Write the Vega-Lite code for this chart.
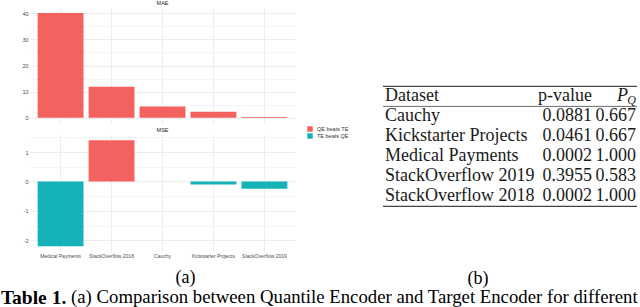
{
  "$schema": "https://vega.github.io/schema/vega-lite/v6.json",
  "padding": 0,
  "background": "white",
  "config": {
    "view": {"stroke": null},
    "font": "Liberation Sans",
    "axis": {"domain": false, "ticks": false, "labelFontSize": 5.5, "labelColor": "#4D4D4D", "labelFont": "Liberation Sans", "gridColor": "#EBEBEB", "gridWidth": 0.9, "labelPadding": 2},
    "title": {"font": "Liberation Sans", "fontSize": 5.5, "fontWeight": "normal", "color": "#1A1A1A"}
  },
  "datasets": {
    "bars": [
      {"metric": "MAE", "dataset": "Medical Payments", "value": 40.1, "winner": "QE beats TE"},
      {"metric": "MAE", "dataset": "StackOverflow 2018", "value": 11.9, "winner": "QE beats TE"},
      {"metric": "MAE", "dataset": "Cauchy", "value": 4.3, "winner": "QE beats TE"},
      {"metric": "MAE", "dataset": "Kickstarter Projects", "value": 2.3, "winner": "QE beats TE"},
      {"metric": "MAE", "dataset": "StackOverflow 2019", "value": 0.3, "winner": "QE beats TE"},
      {"metric": "MSE", "dataset": "Medical Payments", "value": -2.2, "winner": "TE beats QE"},
      {"metric": "MSE", "dataset": "StackOverflow 2018", "value": 1.4, "winner": "QE beats TE"},
      {"metric": "MSE", "dataset": "Cauchy", "value": 0, "winner": "QE beats TE"},
      {"metric": "MSE", "dataset": "Kickstarter Projects", "value": -0.1, "winner": "TE beats QE"},
      {"metric": "MSE", "dataset": "StackOverflow 2019", "value": -0.25, "winner": "TE beats QE"}
    ],
    "table": [
      {"pos": 0, "col": 0, "kind": "text", "label": "Dataset"},
      {"pos": 0, "col": 1, "kind": "text", "label": "p-value"},
      {"pos": 0, "col": 2, "kind": "P", "label": "P"},
      {"pos": 0, "col": 2, "kind": "Q", "label": "Q"},
      {"pos": 1, "col": 0, "kind": "text", "label": "Cauchy"},
      {"pos": 1, "col": 1, "kind": "text", "label": "0.0881"},
      {"pos": 1, "col": 2, "kind": "text", "label": "0.667"},
      {"pos": 2, "col": 0, "kind": "text", "label": "Kickstarter Projects"},
      {"pos": 2, "col": 1, "kind": "text", "label": "0.0461"},
      {"pos": 2, "col": 2, "kind": "text", "label": "0.667"},
      {"pos": 3, "col": 0, "kind": "text", "label": "Medical Payments"},
      {"pos": 3, "col": 1, "kind": "text", "label": "0.0002"},
      {"pos": 3, "col": 2, "kind": "text", "label": "1.000"},
      {"pos": 4, "col": 0, "kind": "text", "label": "StackOverflow 2019"},
      {"pos": 4, "col": 1, "kind": "text", "label": "0.3955"},
      {"pos": 4, "col": 2, "kind": "text", "label": "0.583"},
      {"pos": 5, "col": 0, "kind": "text", "label": "StackOverflow 2018"},
      {"pos": 5, "col": 1, "kind": "text", "label": "0.0002"},
      {"pos": 5, "col": 2, "kind": "text", "label": "1.000"}
    ],
    "rules": [
      {"rule": "top", "pos": -0.5},
      {"rule": "mid", "pos": 0.5},
      {"rule": "bottom", "pos": 5.5}
    ]
  },
  "title": {"text": "(a) Comparison between Quantile Encoder and Target Encoder for different", "orient": "bottom", "anchor": "end", "font": "Liberation Serif", "fontSize": 18.75, "fontWeight": "normal", "color": "#000000", "offset": -19},
  "vconcat": [
    {
      "title": {"text": "Table 1.", "orient": "bottom", "anchor": "start", "font": "Liberation Serif", "fontSize": 19.5, "fontWeight": "bold", "color": "#000000", "dx": -21, "offset": 1},
      "spacing": 33,
      "hconcat": [
        {
          "spacing": 3,
          "title": {"text": "(a)", "orient": "bottom", "anchor": "middle", "font": "Liberation Serif", "fontSize": 18, "fontWeight": "normal", "color": "#000000", "offset": 10},
          "resolve": {"scale": {"color": "independent"}},
          "vconcat": [
            {
              "width": 265,
              "height": 115,
              "title": {"text": "MAE", "offset": 2},
              "data": {"name": "bars"},
              "transform": [{"filter": "datum.metric === 'MAE'"}],
              "mark": {"type": "bar"},
              "encoding": {
                "x": {"field": "dataset", "type": "nominal", "sort": ["Medical Payments", "StackOverflow 2018", "Cauchy", "Kickstarter Projects", "StackOverflow 2019"], "scale": {"paddingInner": 0.1, "paddingOuter": 0.15}, "axis": {"labels": false, "grid": true, "bandPosition": 0.5, "title": null}},
                "y": {"field": "value", "type": "quantitative", "scale": {"domain": [-2, 42], "nice": false, "zero": false}, "axis": {"values": [0, 5, 10, 15, 20, 25, 30, 35, 40], "labelExpr": "datum.value % 10 === 0 ? '' + datum.value : ''", "grid": true, "gridWidth": {"condition": {"test": "datum.value % 10 === 0", "value": 0.9}, "value": 0.5}, "title": null}},
                "color": {"field": "winner", "type": "nominal", "scale": {"domain": ["QE beats TE", "TE beats QE"], "range": ["#F3625E", "#15B3B7"]}, "legend": null}
              }
            },
            {
              "width": 265,
              "height": 116.5,
              "title": {"text": "MSE", "offset": 2, "dy": 9},
              "data": {"name": "bars"},
              "transform": [{"filter": "datum.metric === 'MSE'"}],
              "mark": {"type": "bar"},
              "encoding": {
                "x": {"field": "dataset", "type": "nominal", "sort": ["Medical Payments", "StackOverflow 2018", "Cauchy", "Kickstarter Projects", "StackOverflow 2019"], "scale": {"paddingInner": 0.1, "paddingOuter": 0.15}, "axis": {"labels": true, "labelAngle": 0, "labelFontSize": 5, "grid": true, "bandPosition": 0.5, "title": null}},
                "y": {"field": "value", "type": "quantitative", "scale": {"domain": [-2.38, 1.58], "nice": false, "zero": false}, "axis": {"values": [-2, -1.5, -1, -0.5, 0, 0.5, 1, 1.5], "labelExpr": "datum.value % 1 === 0 ? '' + datum.value : ''", "grid": true, "gridWidth": {"condition": {"test": "datum.value % 1 === 0", "value": 0.9}, "value": 0.5}, "title": null}},
                "color": {"field": "winner", "type": "nominal", "scale": {"domain": ["QE beats TE", "TE beats QE"], "range": ["#F3625E", "#15B3B7"]}, "legend": {"title": null, "orient": "none", "legendX": 277, "legendY": -9, "symbolType": "square", "symbolSize": 30, "symbolStrokeWidth": 0, "labelFontSize": 5.5, "labelColor": "#333333", "rowPadding": 0, "padding": 0, "labelOffset": 4}}
              }
            }
          ]
        },
        {
          "width": 254,
          "height": 243.5,
          "title": {"text": "(b)", "orient": "bottom", "anchor": "middle", "font": "Liberation Serif", "fontSize": 18, "fontWeight": "normal", "color": "#000000", "offset": 18, "dx": -32},
          "layer": [
            {
              "data": {"name": "rules"},
              "transform": [{"filter": "datum.rule !== 'mid'"}],
              "mark": {"type": "rule", "color": "#444444", "strokeWidth": 1.4},
              "encoding": {"y": {"field": "pos", "type": "quantitative", "scale": {"domain": [-4.42, 7.755], "reverse": true, "nice": false, "zero": false}, "axis": null}}
            },
            {
              "data": {"name": "rules"},
              "transform": [{"filter": "datum.rule === 'mid'"}],
              "mark": {"type": "rule", "color": "#444444", "strokeWidth": 0.8},
              "encoding": {"y": {"field": "pos", "type": "quantitative", "scale": {"domain": [-4.42, 7.755], "reverse": true, "nice": false, "zero": false}, "axis": null}}
            },
            {
              "data": {"name": "table"},
              "transform": [{"filter": "datum.col === 0"}],
              "mark": {"type": "text", "align": "left", "baseline": "middle", "font": "Liberation Serif", "fontSize": 18, "color": "#1A1A1A"},
              "encoding": {
                "x": {"field": "col", "type": "quantitative", "scale": {"domain": [0, 1, 2], "range": [2, 209, 253]}, "axis": null},
                "y": {"field": "pos", "type": "quantitative", "scale": {"domain": [-4.42, 7.755], "reverse": true, "nice": false, "zero": false}, "axis": null},
                "text": {"field": "label"}
              }
            },
            {
              "data": {"name": "table"},
              "transform": [{"filter": "datum.col > 0 && datum.kind === 'text'"}],
              "mark": {"type": "text", "align": "right", "baseline": "middle", "font": "Liberation Serif", "fontSize": 18, "color": "#1A1A1A"},
              "encoding": {
                "x": {"field": "col", "type": "quantitative", "scale": {"domain": [0, 1, 2], "range": [2, 209, 253]}, "axis": null},
                "y": {"field": "pos", "type": "quantitative", "scale": {"domain": [-4.42, 7.755], "reverse": true, "nice": false, "zero": false}, "axis": null},
                "text": {"field": "label"}
              }
            },
            {
              "data": {"name": "table"},
              "transform": [{"filter": "datum.kind === 'P'"}],
              "mark": {"type": "text", "align": "right", "baseline": "middle", "font": "Liberation Serif", "fontSize": 18, "fontStyle": "italic", "color": "#1A1A1A", "dx": -8},
              "encoding": {
                "x": {"field": "col", "type": "quantitative", "scale": {"domain": [0, 1, 2], "range": [2, 209, 253]}, "axis": null},
                "y": {"field": "pos", "type": "quantitative", "scale": {"domain": [-4.42, 7.755], "reverse": true, "nice": false, "zero": false}, "axis": null},
                "text": {"field": "label"}
              }
            },
            {
              "data": {"name": "table"},
              "transform": [{"filter": "datum.kind === 'Q'"}],
              "mark": {"type": "text", "align": "right", "baseline": "middle", "font": "Liberation Serif", "fontSize": 12, "fontStyle": "italic", "color": "#1A1A1A", "dy": 4},
              "encoding": {
                "x": {"field": "col", "type": "quantitative", "scale": {"domain": [0, 1, 2], "range": [2, 209, 253]}, "axis": null},
                "y": {"field": "pos", "type": "quantitative", "scale": {"domain": [-4.42, 7.755], "reverse": true, "nice": false, "zero": false}, "axis": null},
                "text": {"field": "label"}
              }
            }
          ]
        }
      ]
    }
  ]
}
